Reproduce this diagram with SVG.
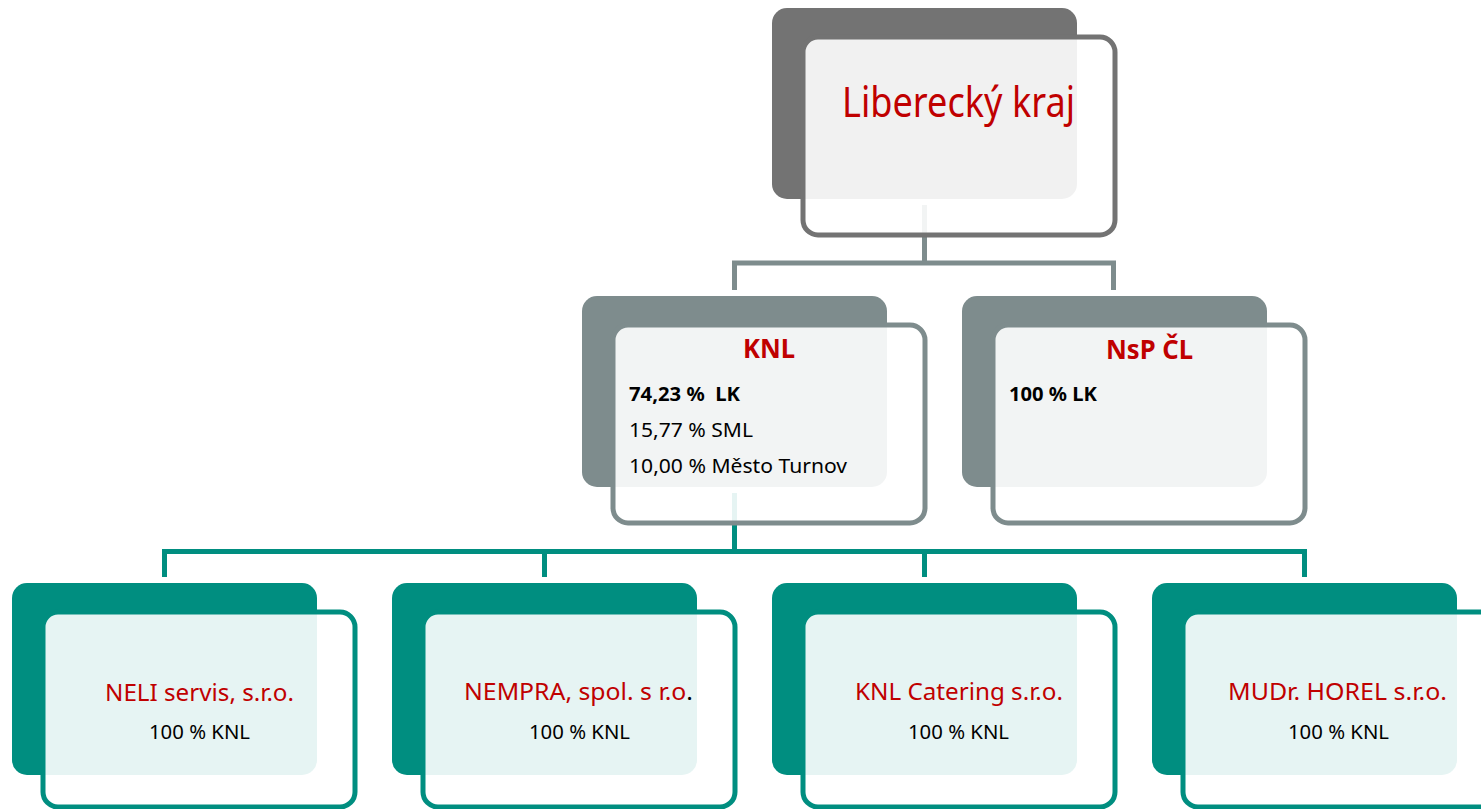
<svg xmlns="http://www.w3.org/2000/svg" width="1481" height="809" viewBox="0 0 1481 809">
<style>
text{font-family:"Noto Sans","Open Sans","DejaVu Sans",sans-serif}
.bg{fill:#737373}
.bs{fill:#7E8C8D}
.bt{fill:#008E80}
.f{fill:#fff;fill-opacity:.9;stroke-width:5}
.fg{stroke:#737373}
.fs{stroke:#7E8C8D}
.ft{stroke:#008E80}
.red{fill:#C00000}
.blk{fill:#000}
.b{font-weight:bold}
.cs{fill:none;stroke:#7E8C8D;stroke-width:5}
.ct{fill:none;stroke:#008E80;stroke-width:5}
</style>
<g id="connectors">
<path class="cs" d="M924.5 205V263M734.5 290V263H1113.5V290"/>
<path class="ct" d="M734.5 493V551.5M164.5 577V551.5H1304.5V577M544.5 551.5V577M924.5 551.5V577"/>
</g>
<g id="node-lk">
<rect class="bg" x="772" y="8" width="305" height="191" rx="15"/>
<rect class="f fg" x="803" y="37" width="312" height="198" rx="15"/>
<text class="red" x="842" y="117" font-size="41" textLength="233" lengthAdjust="spacingAndGlyphs">Liberecký kraj</text>
</g>
<g id="node-knl">
<rect class="bs" x="582" y="296" width="305" height="191" rx="15"/>
<rect class="f fs" x="613" y="325" width="312" height="198" rx="15"/>
<text class="red b" x="743" y="358" font-size="26" textLength="52" lengthAdjust="spacingAndGlyphs">KNL</text>
<text class="blk b" x="629" y="401" font-size="20" textLength="111" lengthAdjust="spacingAndGlyphs" xml:space="preserve">74,23 %  LK</text>
<text class="blk" x="629" y="437" font-size="20" textLength="124" lengthAdjust="spacingAndGlyphs">15,77 % SML</text>
<text class="blk" x="629" y="473" font-size="20" textLength="218" lengthAdjust="spacingAndGlyphs">10,00 % Město Turnov</text>
</g>
<g id="node-nsp">
<rect class="bs" x="962" y="296" width="305" height="191" rx="15"/>
<rect class="f fs" x="993" y="325" width="312" height="198" rx="15"/>
<text class="red b" x="1106" y="359" font-size="26" textLength="87" lengthAdjust="spacingAndGlyphs">NsP ČL</text>
<text class="blk b" x="1009" y="401" font-size="20" textLength="88" lengthAdjust="spacingAndGlyphs">100 % LK</text>
</g>
<g id="node-neli">
<rect class="bt" x="12" y="583" width="305" height="192" rx="15"/>
<rect class="f ft" x="43" y="612" width="312" height="195" rx="15"/>
<text class="red" x="105" y="701" font-size="24" textLength="189" lengthAdjust="spacingAndGlyphs">NELI servis, s.r.o.</text>
<text class="blk" x="149" y="739" font-size="20.5" textLength="101" lengthAdjust="spacingAndGlyphs">100 % KNL</text>
</g>
<g id="node-nempra">
<rect class="bt" x="392" y="583" width="305" height="192" rx="15"/>
<rect class="f ft" x="423" y="612" width="312" height="195" rx="15"/>
<text class="red" x="464" y="700" font-size="24" textLength="229" lengthAdjust="spacingAndGlyphs">NEMPRA, spol. s r.o<tspan class="blk">.</tspan></text>
<text class="blk" x="529" y="739" font-size="20.5" textLength="101" lengthAdjust="spacingAndGlyphs">100 % KNL</text>
</g>
<g id="node-catering">
<rect class="bt" x="772" y="583" width="305" height="192" rx="15"/>
<rect class="f ft" x="803" y="612" width="312" height="195" rx="15"/>
<text class="red" x="855" y="700" font-size="24" textLength="208" lengthAdjust="spacingAndGlyphs">KNL Catering s.r.o.</text>
<text class="blk" x="908" y="739" font-size="20.5" textLength="101" lengthAdjust="spacingAndGlyphs">100 % KNL</text>
</g>
<g id="node-horel">
<rect class="bt" x="1152" y="583" width="305" height="192" rx="15"/>
<rect class="f ft" x="1183" y="612" width="312" height="195" rx="15"/>
<text class="red" x="1228" y="700" font-size="24" textLength="219" lengthAdjust="spacingAndGlyphs">MUDr. HOREL s.r.o.</text>
<text class="blk" x="1288" y="739" font-size="20.5" textLength="101" lengthAdjust="spacingAndGlyphs">100 % KNL</text>
</g>
</svg>
